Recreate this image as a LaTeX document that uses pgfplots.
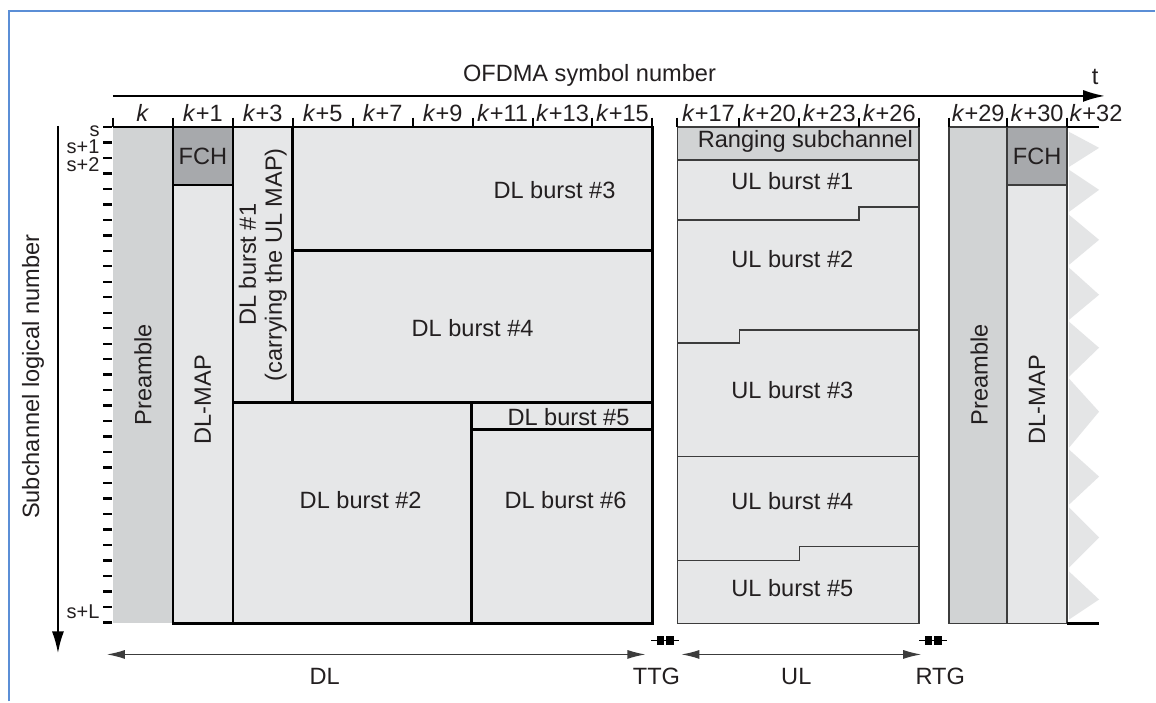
\documentclass[border=0pt]{standalone}
\usepackage{pgfplots}
\pgfplotsset{compat=1.18}
\usepackage{fontspec}
\setmainfont{Liberation Sans}
\usetikzlibrary{arrows.meta}
\definecolor{pre}{HTML}{D1D3D4}
\definecolor{fch}{HTML}{A7A9AC}
\definecolor{lt}{HTML}{E6E7E8}
\definecolor{tri}{HTML}{E4E5E6}
\definecolor{frame}{HTML}{5B8ED6}
\definecolor{txt}{HTML}{231F20}
\definecolor{ulline}{HTML}{3C3C3C}
\pgfplotsset{
  dl/.style={draw=black, line width=1.3pt, fill=lt},
  ul/.style={draw=ulline, line width=0.8pt, fill=lt},
}
\begin{document}
\begin{tikzpicture}[font=\fontsize{11.8}{14}\selectfont, text=txt]
\begin{axis}[width=578pt,height=351pt,scale only axis,
  xmin=0,xmax=1156,ymin=0,ymax=702,y dir=reverse,
  hide axis,clip=false]
% background
\addplot[fill=white,draw=none] coordinates {(0,0)(1156,0)(1156,702)(0,702)} -- cycle;
% frame
\addplot[frame,line width=1pt] coordinates {(9,702)(9,11.5)(1156,11.5)};
% ---------- DL ----------
\addplot[fill=pre,draw=none] coordinates {(113,127)(173,127)(173,624)(113,624)} -- cycle;
\addplot[dl,fill=fch] coordinates {(173,127)(233,127)(233,185)(173,185)} -- cycle;
\addplot[dl] coordinates {(173,185)(233,185)(233,624)(173,624)} -- cycle;
\addplot[dl] coordinates {(233,127)(293,127)(293,403)(233,403)} -- cycle;
\addplot[dl] coordinates {(293,127)(653,127)(653,251)(293,251)} -- cycle;
\addplot[dl] coordinates {(293,251)(653,251)(653,403)(293,403)} -- cycle;
\addplot[dl] coordinates {(233,403)(472,403)(472,624)(233,624)} -- cycle;
\addplot[dl] coordinates {(472,403)(653,403)(653,430)(472,430)} -- cycle;
\addplot[dl] coordinates {(472,430)(653,430)(653,624)(472,624)} -- cycle;
\addplot[black,line width=1pt] coordinates {(113,127)(173,127)};
% ---------- UL ----------
\addplot[ul,fill=pre] coordinates {(678,127)(920,127)(920,160)(678,160)} -- cycle;
\addplot[ul] coordinates {(678,160)(920,160)(920,207)(860,207)(860,220)(678,220)} -- cycle;
\addplot[ul] coordinates {(678,220)(860,220)(860,207)(920,207)(920,330)(740,330)(740,343)(678,343)} -- cycle;
\addplot[ul] coordinates {(678,343)(740,343)(740,330)(920,330)(920,457)(678,457)} -- cycle;
\addplot[ul] coordinates {(678,457)(920,457)(920,547)(800,547)(800,561)(678,561)} -- cycle;
\addplot[ul] coordinates {(678,561)(800,561)(800,547)(920,547)(920,624)(678,624)} -- cycle;
% ---------- next frame ----------
\addplot[fill=tri,draw=none] coordinates {
 (1070,132)(1100,148)(1070,167)(1070,170)(1100,190)(1070,212)
 (1070,215)(1100,240)(1070,265)(1070,268)(1100,295)(1070,320)
 (1070,322)(1100,348)(1070,377)(1070,379)(1100,412)(1070,448)
 (1070,450)(1100,477)(1070,505)(1070,508)(1100,538)(1070,568)
 (1070,572)(1100,600)(1070,620)} -- cycle;
\addplot[ul,fill=pre] coordinates {(950,127)(1008,127)(1008,624)(950,624)} -- cycle;
\addplot[ul,fill=fch] coordinates {(1008,127)(1068,127)(1068,185)(1008,185)} -- cycle;
\addplot[ul] coordinates {(1008,185)(1068,185)(1068,624)(1008,624)} -- cycle;
\addplot[black,line width=1.2pt] coordinates {(1068,127)(1100,127)};
\addplot[black,line width=1.2pt] coordinates {(1068,624)(1100,624)};
% ---------- top ticks ----------
\addplot[only marks,mark=|,mark size=2.4pt,mark options={line width=1pt,draw=black}] coordinates {
 (113,122.5)(173,122.5)(233,122.5)(293,122.5)(353,122.5)(413,122.5)(473,122.5)(533,122.5)(593,122.5)(653,122.5)
 (678,122.5)(740,122.5)(800,122.5)(860,122.5)(920,122.5)
 (950,122.5)(1008,122.5)(1068,122.5)};
% ---------- left ticks ----------
\addplot[only marks,mark=-,mark size=2.4pt,mark options={line width=1.2pt,draw=black}] coordinates {
 (107.5,127)(107.5,142.5)(107.5,158)(107.5,173.5)(107.5,189)(107.5,204.5)(107.5,220)(107.5,235.5)
 (107.5,251)(107.5,266.5)(107.5,282)(107.5,297.5)(107.5,313)(107.5,328.5)(107.5,344)(107.5,359.5)
 (107.5,375)(107.5,390.5)(107.5,406)(107.5,421.5)(107.5,437)(107.5,452.5)(107.5,468)(107.5,483.5)
 (107.5,499)(107.5,514.5)(107.5,530)(107.5,545.5)(107.5,561)(107.5,576.5)(107.5,592)(107.5,607.5)(107.5,623)};
% ---------- axes arrows ----------
\addplot[black,line width=1.1pt,-{Latex[length=11pt,width=6pt]}] coordinates {(113,96)(1106,96)};
\addplot[black,line width=1.1pt,-{Latex[length=11pt,width=6pt]}] coordinates {(58,126)(58,654)};
% ---------- bottom arrows ----------
\addplot[ulline,line width=0.6pt,{Latex[length=9pt,width=4.5pt]}-{Latex[length=9pt,width=4.5pt]}] coordinates {(107,655)(646,655)};
\addplot[ulline,line width=0.6pt,{Latex[length=9pt,width=4.5pt]}-{Latex[length=9pt,width=4.5pt]}] coordinates {(682,655)(922,655)};
% TTG / RTG markers
\addplot[black,line width=0.7pt] coordinates {(652,641)(680,641)};
\addplot[fill=black,draw=none] coordinates {(658,637)(665,637)(665,646)(658,646)} -- cycle;
\addplot[fill=black,draw=none] coordinates {(667,637)(675,637)(675,646)(667,646)} -- cycle;
\addplot[black,line width=0.7pt] coordinates {(920,641)(948,641)};
\addplot[fill=black,draw=none] coordinates {(926,637)(933,637)(933,646)(926,646)} -- cycle;
\addplot[fill=black,draw=none] coordinates {(935,637)(943,637)(943,646)(935,646)} -- cycle;
% ---------- texts ----------
\node at (axis cs:590,75) {OFDMA symbol number};
\node at (axis cs:1096,77) {t};
\node[rotate=90] at (axis cs:33,377) {Subchannel logical number};
\node at (axis cs:143,113) {\textit{k}};
\node at (axis cs:203,113) {\textit{k}+1};
\node at (axis cs:263,113) {\textit{k}+3};
\node at (axis cs:323,113) {\textit{k}+5};
\node at (axis cs:383,113) {\textit{k}+7};
\node at (axis cs:443,113) {\textit{k}+9};
\node at (axis cs:503,113) {\textit{k}+11};
\node at (axis cs:563,113) {\textit{k}+13};
\node at (axis cs:623,113) {\textit{k}+15};
\node at (axis cs:709,113) {\textit{k}+17};
\node at (axis cs:770,113) {\textit{k}+20};
\node at (axis cs:830,113) {\textit{k}+23};
\node at (axis cs:890,113) {\textit{k}+26};
\node at (axis cs:979,113) {\textit{k}+29};
\node at (axis cs:1038,113) {\textit{k}+30};
\node at (axis cs:1097,113) {\textit{k}+32};
\begin{scope}[every node/.style={anchor=east,inner sep=0pt,font=\fontsize{10}{11}\selectfont}]
\node at (axis cs:100,131) {s};
\node at (axis cs:100,146.5) {s+1};
\node at (axis cs:100,164.5) {s+2};
\node at (axis cs:100,612) {s+L};
\end{scope}
\node[rotate=90] at (axis cs:143,375) {Preamble};
\node at (axis cs:203,157) {FCH};
\node[rotate=90] at (axis cs:203,400) {DL-MAP};
\node[rotate=90,align=center,font=\fontsize{11.8}{13}\selectfont] at (axis cs:263,265) {DL burst \#1\\(carrying the UL MAP)};
\node at (axis cs:555,190) {DL burst \#3};
\node at (axis cs:473,328) {DL burst \#4};
\node at (axis cs:569,417) {DL burst \#5};
\node at (axis cs:361,500) {DL burst \#2};
\node at (axis cs:566,500) {DL burst \#6};
\node at (axis cs:806,142) {Ranging subchannel};
\node at (axis cs:793,181) {UL burst \#1};
\node at (axis cs:793,259) {UL burst \#2};
\node at (axis cs:793,390) {UL burst \#3};
\node at (axis cs:793,501) {UL burst \#4};
\node at (axis cs:793,589) {UL burst \#5};
\node[rotate=90] at (axis cs:980,375) {Preamble};
\node at (axis cs:1038,157) {FCH};
\node[rotate=90] at (axis cs:1038,400) {DL-MAP};
\node at (axis cs:325,677) {DL};
\node at (axis cs:657,677) {TTG};
\node at (axis cs:797,677) {UL};
\node at (axis cs:941,677) {RTG};
\end{axis}
\end{tikzpicture}
\end{document}
